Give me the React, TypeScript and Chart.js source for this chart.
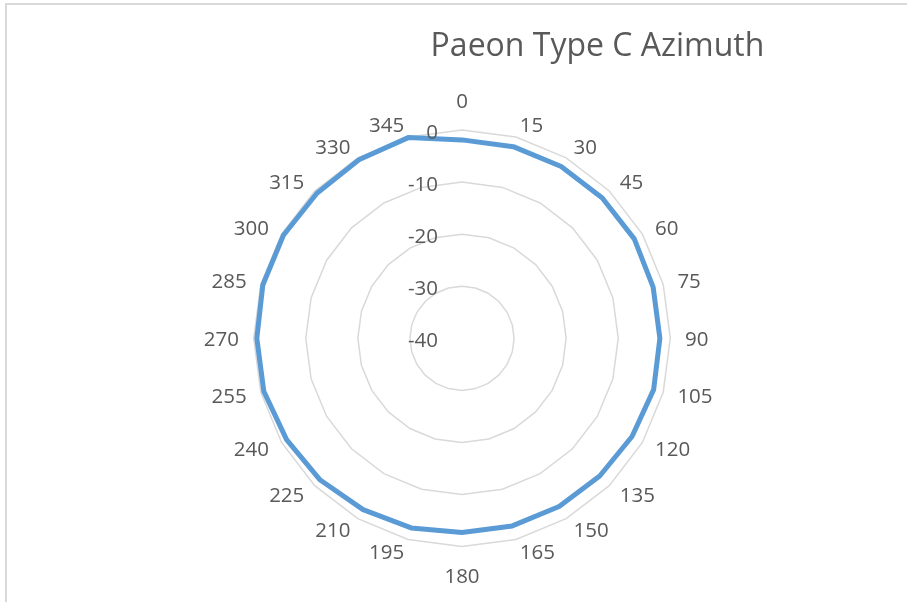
import React, { useEffect, useRef } from 'react';
import { Chart, registerables } from 'chart.js';

Chart.register(...registerables);

// ---- data ----
const categories = [
  '0', '15', '30', '45', '60', '75', '90', '105', '120', '135', '150', '165',
  '180', '195', '210', '225', '240', '255', '270', '285', '300', '315', '330', '345',
];
const azimuthValues = [
  -1.9, -1.9, -1.9, -1.9, -1.8, -2.0, -2.0, -1.9, -2.3, -2.6, -2.7, -2.7,
  -2.7, -2.3, -2.0, -1.5, -1.1, -0.6, -0.6, -0.4, -0.4, -0.6, -0.4, -0.1,
];
const tickValues = [-40, -30, -20, -10, 0];
const chartTitle = 'Paeon Type C Azimuth';

// ---- style ----
const FONT = "'Open Sans', sans-serif";
const TEXT_COLOR = '#595959';
const LABEL_SIZE = 20.5;
const DIGIT_H = LABEL_SIZE * 0.714;

const labelPlugin = {
  id: 'excelRadarLabels',
  afterDatasetsDraw(chart: any) {
    const scale = chart.scales.r;
    const ctx = chart.ctx as CanvasRenderingContext2D;
    const R = scale.drawingArea;
    const cx = scale.xCenter;
    const cy = scale.yCenter;
    ctx.save();
    ctx.fillStyle = TEXT_COLOR;
    ctx.font = `${LABEL_SIZE}px ${FONT}`;
    ctx.textBaseline = 'alphabetic';

    // value axis tick labels (right aligned, left of the vertical axis)
    ctx.textAlign = 'right';
    scale.ticks.forEach((t: any) => {
      const d = scale.getDistanceFromCenterForValue(t.value);
      ctx.fillText(String(t.label), cx - 24, cy - d + 1.7 + DIGIT_H / 2);
    });

    // category labels around the rim
    const labels: string[] = chart.data.labels;
    const n = labels.length;
    labels.forEach((lab, i) => {
      const a = (i * 360) / n;
      const unit = scale.getPointPosition(i, 1);
      const ux = unit.x - cx;
      const uy = unit.y - cy; // = -cos(a)
      if (a === 0 || a === 180) {
        ctx.textAlign = 'center';
        const centerY = cy + uy * (R + 29.2);
        ctx.fillText(lab, cx, centerY + DIGIT_H / 2);
        return;
      }
      const ax = cx + ux * (R + 14.7);
      const ay = cy + uy * (R + 5.7);
      ctx.textAlign = a < 180 ? 'left' : 'right';
      const centerY = ay + uy * (DIGIT_H / 2);
      ctx.fillText(lab, ax, centerY + DIGIT_H / 2);
    });
    ctx.restore();
  },
};

export default function App() {
  const ref = useRef<HTMLCanvasElement>(null);

  useEffect(() => {
    if (!ref.current) return;
    Chart.defaults.font.family = FONT;
    const chart = new Chart(ref.current, {
      type: 'radar',
      data: {
        labels: categories,
        datasets: [
          {
            label: 'Azimuth',
            data: azimuthValues,
            borderColor: '#5b9bd5',
            backgroundColor: 'rgba(0,0,0,0)',
            borderWidth: 5,
            borderJoinStyle: 'round',
            pointRadius: 0,
            pointHoverRadius: 0,
            fill: false,
            tension: 0,
            clip: false,
          } as any,
        ],
      },
      options: {
        responsive: false,
        animation: false,
        devicePixelRatio: 1,
        layout: { padding: 0 },
        plugins: {
          legend: { display: false },
          tooltip: { enabled: false },
          title: {
            display: true,
            text: chartTitle,
            color: TEXT_COLOR,
            font: { family: FONT, size: 32, weight: 'normal' },
            padding: { top: 28, bottom: 10 },
          },
        },
        scales: {
          r: {
            min: tickValues[0],
            max: tickValues[tickValues.length - 1],
            ticks: { display: false, stepSize: tickValues[1] - tickValues[0] },
            pointLabels: { display: false },
            angleLines: { display: false },
            grid: { color: '#d9d9d9', lineWidth: 1.5 },
            afterFit: (s: any) => {
              s.xCenter = 462;
              s.yCenter = 338.3;
              s.drawingArea = 208.3;
            },
          } as any,
        },
      },
      plugins: [labelPlugin],
    });
    return () => chart.destroy();
  }, []);

  return (
    <div
      style={{
        position: 'fixed',
        left: 0,
        top: 0,
        width: 907,
        height: 602,
        overflow: 'hidden',
        background: '#ffffff',
      }}
    >
      <div
        style={{
          position: 'absolute',
          left: 5,
          top: 3,
          width: 2000,
          height: 2000,
          borderLeft: '2px solid #d9d9d9',
          borderTop: '2px solid #d9d9d9',
        }}
      />
      <canvas
        ref={ref}
        width={1195}
        height={602}
        style={{ position: 'absolute', left: 0, top: 0, width: 1195, height: 602 }}
      />
    </div>
  );
}
